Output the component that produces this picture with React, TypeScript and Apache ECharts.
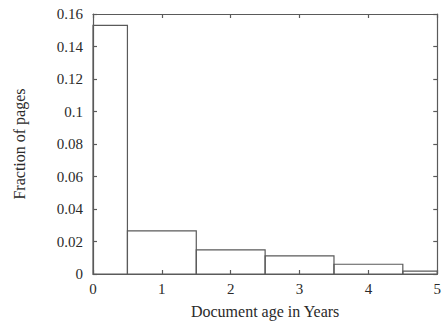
import React, { useEffect, useRef } from "react";
import * as echarts from "echarts";

const binStarts = [0, 0.5, 1.5, 2.5, 3.5, 4.5];
const binEnds = [0.5, 1.5, 2.5, 3.5, 4.5, 5];
const fractions = [0.153, 0.0265, 0.0148, 0.0111, 0.006, 0.0018];
const xTitle = "Document age in Years";
const yTitle = "Fraction of pages";

const FONT = "'Liberation Serif', 'DejaVu Serif', serif";
const AXIS_COLOR = "#5a5a5a";
const TEXT_COLOR = "#2a2a2a";

export default function App() {
  const ref = useRef<HTMLDivElement>(null);
  useEffect(() => {
    if (!ref.current) return;
    const chart = echarts.init(ref.current, undefined, { renderer: "svg" });
    const data = binStarts.map((s, i) => [s, binEnds[i], fractions[i]]);
    const axisCommon = {
      type: "value" as const,
      axisLine: { show: true, onZero: false, lineStyle: { color: AXIS_COLOR, width: 1.2 } },
      axisTick: { show: true, inside: true, length: 4, lineStyle: { color: AXIS_COLOR, width: 1.2 } },
      splitLine: { show: false },
    };
    chart.setOption({
      animation: false,
      backgroundColor: "#fff",
      grid: { left: 93, right: 3, top: 14, bottom: 51, containLabel: false },
      xAxis: [
        {
          ...axisCommon,
          min: 0,
          max: 5,
          interval: 1,
          position: "bottom",
          name: xTitle,
          nameLocation: "middle",
          nameGap: 29,
          nameTextStyle: { fontFamily: FONT, fontSize: 16, color: TEXT_COLOR },
          axisLabel: { fontFamily: FONT, fontSize: 15, color: TEXT_COLOR, margin: 7 },
        },
        {
          ...axisCommon,
          min: 0,
          max: 5,
          interval: 1,
          position: "top",
          axisLabel: { show: false },
        },
      ],
      yAxis: [
        {
          ...axisCommon,
          min: 0,
          max: 0.16,
          interval: 0.02,
          position: "left",
          name: yTitle,
          nameLocation: "middle",
          nameGap: 66,
          nameTextStyle: { fontFamily: FONT, fontSize: 16, color: TEXT_COLOR },
          axisLabel: { fontFamily: FONT, fontSize: 15, color: TEXT_COLOR, margin: 10 },
        },
        {
          ...axisCommon,
          min: 0,
          max: 0.16,
          interval: 0.02,
          position: "right",
          axisLabel: { show: false },
        },
      ],
      series: [
        {
          type: "custom",
          xAxisIndex: 0,
          yAxisIndex: 0,
          data,
          encode: { x: [0, 1], y: 2 },
          renderItem: (params: any, api: any) => {
            const p0 = api.coord([api.value(0), api.value(2)]);
            const p1 = api.coord([api.value(1), 0]);
            return {
              type: "rect",
              shape: { x: p0[0], y: p0[1], width: p1[0] - p0[0], height: p1[1] - p0[1] },
              style: { fill: "none", stroke: AXIS_COLOR, lineWidth: 1.2 },
            };
          },
        },
      ],
    });
    return () => chart.dispose();
  }, []);
  return (
    <div
      ref={ref}
      style={{ position: "absolute", left: 0, top: 0, width: 444, height: 325 }}
    />
  );
}
